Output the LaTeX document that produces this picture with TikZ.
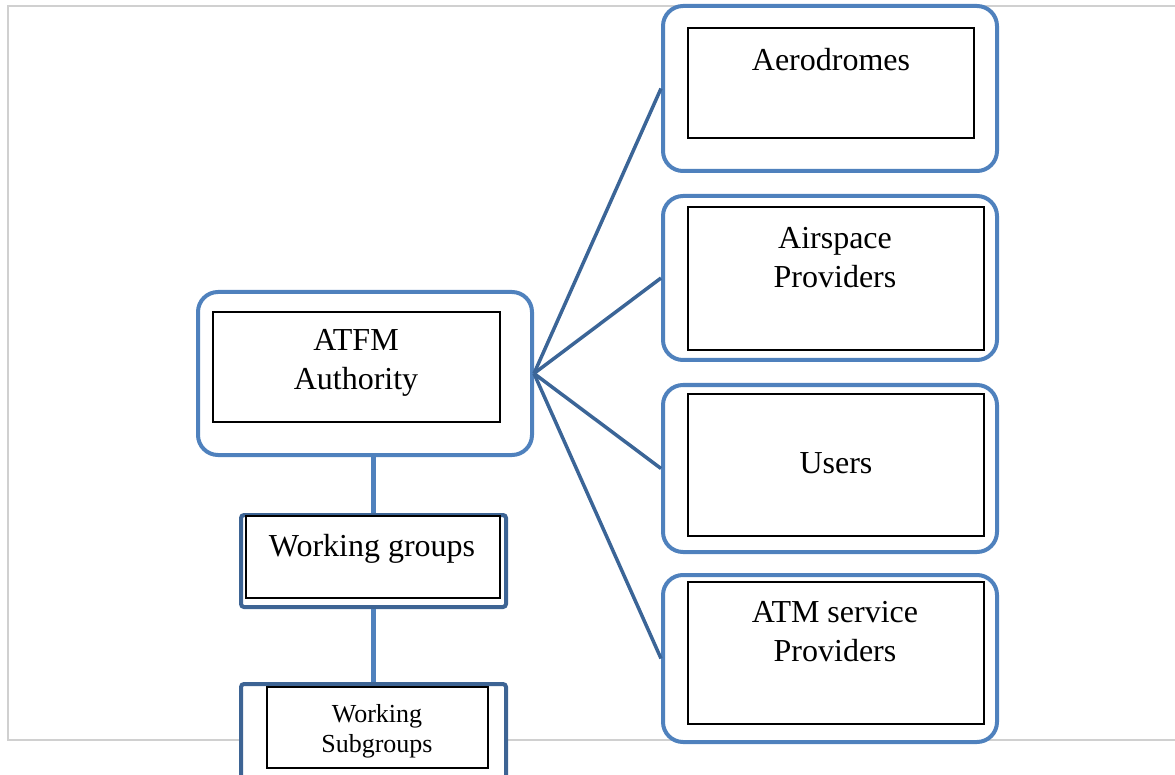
\documentclass[tikz,border=0pt]{standalone}
\usepackage{fontspec}
\setmainfont{Liberation Serif}
\definecolor{outerblue}{HTML}{4F81BD}
\definecolor{linkblue}{HTML}{3B6597}
\definecolor{boxblue}{HTML}{3D6494}
\definecolor{framegray}{HTML}{D0D0D0}
\begin{document}
\begin{tikzpicture}[x=1pt,y=-1pt,
  panel/.style={draw=outerblue, line width=4pt, rounded corners=20pt, fill=white, inner sep=0pt},
  groupbox/.style={draw=boxblue, line width=4pt, rounded corners=3pt, fill=white, inner sep=0pt},
  card/.style={draw=black, line width=2pt, fill=white, inner sep=0pt},
  label/.style={font=\fontsize{32}{39}\selectfont, align=center, inner sep=0pt},
  smalllabel/.style={font=\fontsize{26}{30}\selectfont, align=center, inner sep=0pt},
  spoke/.style={draw=linkblue, line width=3.5pt},
  trunk/.style={draw=outerblue, line width=4.5pt}]
\useasboundingbox (0,0) rectangle (1175,775);
\clip (0,0) rectangle (1175,775);

% light page frame
\draw[framegray, line width=1.5pt] (1175,6) -- (8,6) -- (8,740) -- (1175,740);

% central authority
\node[panel, minimum width=334pt, minimum height=163pt] (atfm) at (365,373.5) {};
\node[card, minimum width=287pt, minimum height=110pt] (atfmC) at (356.5,367) {};
\node[label] (atfmT) at (356,363) {ATFM\\Authority};

% stakeholders on the right
\node[panel, minimum width=334pt, minimum height=165pt] (aero) at (830,88.5) {};
\node[card, minimum width=286pt, minimum height=110pt] (aeroC) at (831,83) {};
\node[label] (aeroT) at (831,60) {Aerodromes};

\node[panel, minimum width=334pt, minimum height=164pt] (air) at (830,278) {};
\node[card, minimum width=296pt, minimum height=143pt] (airC) at (836,278.5) {};
\node[label] (airT) at (835,258) {Airspace\\Providers};

\node[panel, minimum width=334pt, minimum height=167pt] (users) at (830,468.5) {};
\node[card, minimum width=296pt, minimum height=142pt] (usersC) at (836,465) {};
\node[label] (usersT) at (836,463) {Users};

\node[panel, minimum width=334pt, minimum height=167pt] (atm) at (830,658.5) {};
\node[card, minimum width=296pt, minimum height=142pt] (atmC) at (836,653) {};
\node[label] (atmT) at (835,632) {ATM service\\Providers};

% working structure below
\node[groupbox, minimum width=265pt, minimum height=92pt] (wg) at (373.5,561) {};
\node[card, minimum width=254pt, minimum height=82pt] (wgC) at (373,557) {};
\node[label] (wgT) at (372,549) {Working groups};

\node[groupbox, minimum width=265pt, minimum height=116pt] (ws) at (373.5,742) {};
\node[card, minimum width=221pt, minimum height=81pt] (wsC) at (377.5,727.5) {};
\node[smalllabel] (wsT) at (377,731) {Working\\Subgroups};

% connectors
\draw[spoke] (atfm.east) -- (aero.west);
\draw[spoke] (atfm.east) -- (air.west);
\draw[spoke] (atfm.east) -- (users.west);
\draw[spoke] (atfm.east) -- (atm.west);
\draw[trunk] (atfm.south -| wg.north) -- (wg.north);
\draw[trunk] (wg.south) -- (ws.north);
\end{tikzpicture}
\end{document}
